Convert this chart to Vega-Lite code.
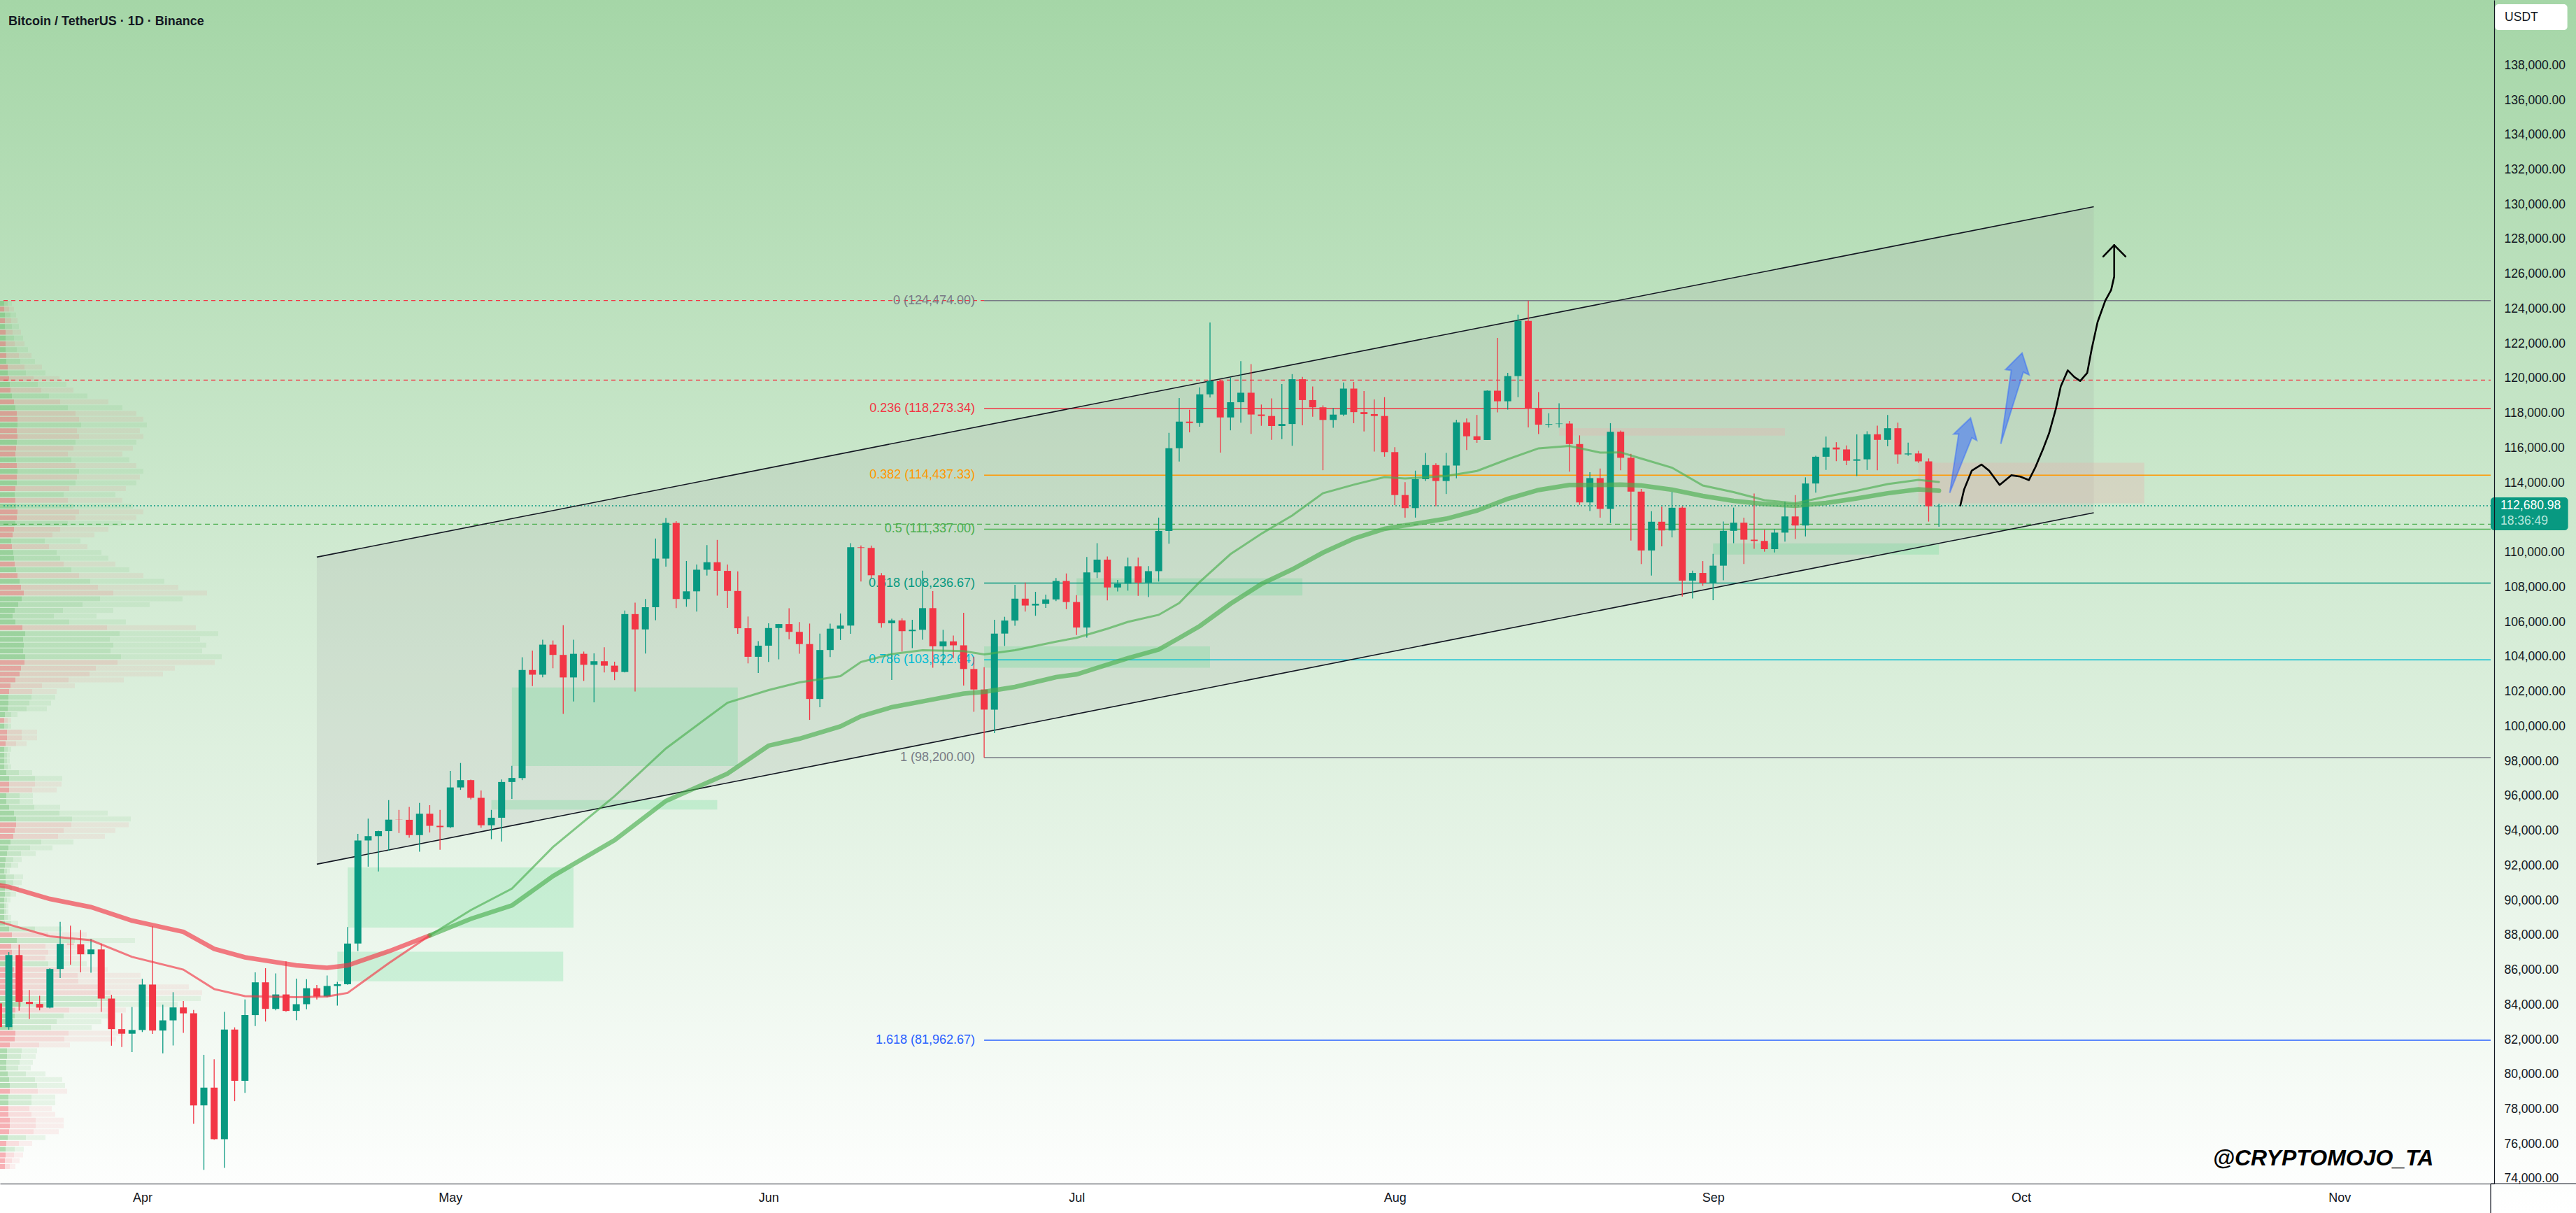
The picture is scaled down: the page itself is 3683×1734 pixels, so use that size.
{
"$schema":"https://vega.github.io/schema/vega-lite/v6.json",
"width":3566,"height":1692,"autosize":{"type":"none"},"padding":{"left":0,"top":0,"right":117,"bottom":42},"background":"#ffffff",
"config":{"view":{"stroke":null,"fill":{"gradient":"linear","x1":0,"y1":0,"x2":0,"y2":1,"stops":[{"offset":0,"color":"#a5d6a7"},{"offset":0.5,"color":"#d3ebd4"},{"offset":1,"color":"#fdfefd"}]}},"font":"Liberation Sans"},
"title":{"text":"Bitcoin / TetherUS · 1D · Binance","anchor":"start","frame":"group","orient":"top","offset":-54,"baseline":"alphabetic","dx":12,"fontSize":18,"fontWeight":"bold","font":"Liberation Sans","color":"#131722"},
"datasets":{
"candles":[
{"date":"2025-03-18","o":84075,"h":84075,"l":81134,"c":82718},
{"date":"2025-03-19","o":82718,"h":87022,"l":82566,"c":86855},
{"date":"2025-03-20","o":86855,"h":87453,"l":83655,"c":84167},
{"date":"2025-03-21","o":84167,"h":84850,"l":83175,"c":84043},
{"date":"2025-03-22","o":84043,"h":84513,"l":83675,"c":83833},
{"date":"2025-03-23","o":83833,"h":86106,"l":83791,"c":86054},
{"date":"2025-03-24","o":86054,"h":88765,"l":85541,"c":87499},
{"date":"2025-03-25","o":87499,"h":88543,"l":86300,"c":87471},
{"date":"2025-03-26","o":87471,"h":88292,"l":85861,"c":86900},
{"date":"2025-03-27","o":86900,"h":87786,"l":85837,"c":87177},
{"date":"2025-03-28","o":87177,"h":87515,"l":83585,"c":84353},
{"date":"2025-03-29","o":84353,"h":84567,"l":81644,"c":82597},
{"date":"2025-03-30","o":82597,"h":83505,"l":81565,"c":82334},
{"date":"2025-03-31","o":82334,"h":83871,"l":81278,"c":82548},
{"date":"2025-04-01","o":82548,"h":85487,"l":82430,"c":85159},
{"date":"2025-04-02","o":85159,"h":88500,"l":82320,"c":82516},
{"date":"2025-04-03","o":82516,"h":83998,"l":81211,"c":83102},
{"date":"2025-04-04","o":83102,"h":84720,"l":81659,"c":83844},
{"date":"2025-04-05","o":83844,"h":84207,"l":82378,"c":83504},
{"date":"2025-04-06","o":83504,"h":83704,"l":77153,"c":78214},
{"date":"2025-04-07","o":78214,"h":81119,"l":74508,"c":79235},
{"date":"2025-04-08","o":79235,"h":80867,"l":76239,"c":76272},
{"date":"2025-04-09","o":76272,"h":83588,"l":74620,"c":82573},
{"date":"2025-04-10","o":82573,"h":82700,"l":78456,"c":79627},
{"date":"2025-04-11","o":79627,"h":84300,"l":78936,"c":83404},
{"date":"2025-04-12","o":83404,"h":85856,"l":82770,"c":85288},
{"date":"2025-04-13","o":85288,"h":86100,"l":83034,"c":83760},
{"date":"2025-04-14","o":83760,"h":85799,"l":83678,"c":84591},
{"date":"2025-04-15","o":84591,"h":86496,"l":83600,"c":83643},
{"date":"2025-04-16","o":83643,"h":85500,"l":83111,"c":84030},
{"date":"2025-04-17","o":84030,"h":85470,"l":83736,"c":84947},
{"date":"2025-04-18","o":84947,"h":85132,"l":84303,"c":84474},
{"date":"2025-04-19","o":84474,"h":85677,"l":84418,"c":85077},
{"date":"2025-04-20","o":85077,"h":85320,"l":83949,"c":85179},
{"date":"2025-04-21","o":85179,"h":88460,"l":85144,"c":87516},
{"date":"2025-04-22","o":87516,"h":93817,"l":87085,"c":93442},
{"date":"2025-04-23","o":93442,"h":94696,"l":91935,"c":93691},
{"date":"2025-04-24","o":93691,"h":94000,"l":91660,"c":93980},
{"date":"2025-04-25","o":93980,"h":95758,"l":92856,"c":94638},
{"date":"2025-04-26","o":94638,"h":95199,"l":93870,"c":94629},
{"date":"2025-04-27","o":94629,"h":95369,"l":93602,"c":93750},
{"date":"2025-04-28","o":93750,"h":95600,"l":92800,"c":94979},
{"date":"2025-04-29","o":94979,"h":95470,"l":93900,"c":94284},
{"date":"2025-04-30","o":94284,"h":95200,"l":92910,"c":94207},
{"date":"2025-05-01","o":94207,"h":97437,"l":94153,"c":96490},
{"date":"2025-05-02","o":96490,"h":97895,"l":96350,"c":96910},
{"date":"2025-05-03","o":96910,"h":96943,"l":95800,"c":95892},
{"date":"2025-05-04","o":95892,"h":96318,"l":94172,"c":94315},
{"date":"2025-05-05","o":94315,"h":95199,"l":93514,"c":94748},
{"date":"2025-05-06","o":94748,"h":96950,"l":93377,"c":96802},
{"date":"2025-05-07","o":96802,"h":97732,"l":95837,"c":97033},
{"date":"2025-05-08","o":97033,"h":103971,"l":96910,"c":103241},
{"date":"2025-05-09","o":103241,"h":104361,"l":102315,"c":102971},
{"date":"2025-05-10","o":102971,"h":104984,"l":102818,"c":104696},
{"date":"2025-05-11","o":104696,"h":104937,"l":103340,"c":104107},
{"date":"2025-05-12","o":104107,"h":105819,"l":100718,"c":102812},
{"date":"2025-05-13","o":102812,"h":104976,"l":101429,"c":104170},
{"date":"2025-05-14","o":104170,"h":104300,"l":102614,"c":103539},
{"date":"2025-05-15","o":103539,"h":104192,"l":101383,"c":103744},
{"date":"2025-05-16","o":103744,"h":104550,"l":103100,"c":103489},
{"date":"2025-05-17","o":103489,"h":103718,"l":102659,"c":103126},
{"date":"2025-05-18","o":103126,"h":106660,"l":103105,"c":106454},
{"date":"2025-05-19","o":106454,"h":107108,"l":102000,"c":105573},
{"date":"2025-05-20","o":105573,"h":107320,"l":104184,"c":106850},
{"date":"2025-05-21","o":106850,"h":110797,"l":106100,"c":109643},
{"date":"2025-05-22","o":109643,"h":111980,"l":109177,"c":111696},
{"date":"2025-05-23","o":111696,"h":111800,"l":106800,"c":107318},
{"date":"2025-05-24","o":107318,"h":109506,"l":106875,"c":107762},
{"date":"2025-05-25","o":107762,"h":109299,"l":106600,"c":109004},
{"date":"2025-05-26","o":109004,"h":110422,"l":108670,"c":109434},
{"date":"2025-05-27","o":109434,"h":110718,"l":107516,"c":108938},
{"date":"2025-05-28","o":108938,"h":109300,"l":106810,"c":107782},
{"date":"2025-05-29","o":107782,"h":108910,"l":105322,"c":105641},
{"date":"2025-05-30","o":105641,"h":106313,"l":103621,"c":103998},
{"date":"2025-05-31","o":103998,"h":104900,"l":103068,"c":104638},
{"date":"2025-06-01","o":104638,"h":105920,"l":103700,"c":105652},
{"date":"2025-06-02","o":105652,"h":105888,"l":103854,"c":105881},
{"date":"2025-06-03","o":105881,"h":106794,"l":105000,"c":105432},
{"date":"2025-06-04","o":105432,"h":105999,"l":104172,"c":104731},
{"date":"2025-06-05","o":104731,"h":105909,"l":100372,"c":101575},
{"date":"2025-06-06","o":101575,"h":105333,"l":101095,"c":104390},
{"date":"2025-06-07","o":104390,"h":105900,"l":103981,"c":105615},
{"date":"2025-06-08","o":105615,"h":106488,"l":104964,"c":105793},
{"date":"2025-06-09","o":105793,"h":110530,"l":105318,"c":110295},
{"date":"2025-06-10","o":110295,"h":110400,"l":108331,"c":110257},
{"date":"2025-06-11","o":110257,"h":110392,"l":108500,"c":108686},
{"date":"2025-06-12","o":108686,"h":108813,"l":105671,"c":105929},
{"date":"2025-06-13","o":105929,"h":106182,"l":102664,"c":106090},
{"date":"2025-06-14","o":106090,"h":106210,"l":104300,"c":105472},
{"date":"2025-06-15","o":105472,"h":106128,"l":104494,"c":105552},
{"date":"2025-06-16","o":105552,"h":108952,"l":104980,"c":106796},
{"date":"2025-06-17","o":106796,"h":107771,"l":103371,"c":104601},
{"date":"2025-06-18","o":104601,"h":105550,"l":103500,"c":104883},
{"date":"2025-06-19","o":104883,"h":105226,"l":103928,"c":104658},
{"date":"2025-06-20","o":104658,"h":106524,"l":102345,"c":103297},
{"date":"2025-06-21","o":103297,"h":104000,"l":100838,"c":102120},
{"date":"2025-06-22","o":102120,"h":103400,"l":98200,"c":100963},
{"date":"2025-06-23","o":100963,"h":106128,"l":99613,"c":105334},
{"date":"2025-06-24","o":105334,"h":106300,"l":104622,"c":106083},
{"date":"2025-06-25","o":106083,"h":108135,"l":105786,"c":107340},
{"date":"2025-06-26","o":107340,"h":108272,"l":106595,"c":106947},
{"date":"2025-06-27","o":106947,"h":107735,"l":106356,"c":107047},
{"date":"2025-06-28","o":107047,"h":107577,"l":106811,"c":107296},
{"date":"2025-06-29","o":107296,"h":108528,"l":107201,"c":108357},
{"date":"2025-06-30","o":108357,"h":108789,"l":106733,"c":107146},
{"date":"2025-07-01","o":107146,"h":107540,"l":105250,"c":105682},
{"date":"2025-07-02","o":105682,"h":109730,"l":105100,"c":108850},
{"date":"2025-07-03","o":108850,"h":110529,"l":108527,"c":109584},
{"date":"2025-07-04","o":109584,"h":109765,"l":107245,"c":107984},
{"date":"2025-07-05","o":107984,"h":108420,"l":107756,"c":108198},
{"date":"2025-07-06","o":108198,"h":109700,"l":107800,"c":109203},
{"date":"2025-07-07","o":109203,"h":109700,"l":107500,"c":108262},
{"date":"2025-07-08","o":108262,"h":109216,"l":107429,"c":108922},
{"date":"2025-07-09","o":108922,"h":111999,"l":108324,"c":111234},
{"date":"2025-07-10","o":111234,"h":116868,"l":110500,"c":115987},
{"date":"2025-07-11","o":115987,"h":118869,"l":115222,"c":117516},
{"date":"2025-07-12","o":117516,"h":118200,"l":116900,"c":117435},
{"date":"2025-07-13","o":117435,"h":119488,"l":117224,"c":119086},
{"date":"2025-07-14","o":119086,"h":123218,"l":118905,"c":119841},
{"date":"2025-07-15","o":119841,"h":119940,"l":115736,"c":117758},
{"date":"2025-07-16","o":117758,"h":120063,"l":117017,"c":118630},
{"date":"2025-07-17","o":118630,"h":120998,"l":117453,"c":119177},
{"date":"2025-07-18","o":119177,"h":120820,"l":116812,"c":117925},
{"date":"2025-07-19","o":117925,"h":118499,"l":117277,"c":117840},
{"date":"2025-07-20","o":117840,"h":118856,"l":116467,"c":117265},
{"date":"2025-07-21","o":117265,"h":119676,"l":116515,"c":117380},
{"date":"2025-07-22","o":117380,"h":120247,"l":116128,"c":119954},
{"date":"2025-07-23","o":119954,"h":120090,"l":117301,"c":118755},
{"date":"2025-07-24","o":118755,"h":119535,"l":117800,"c":118340},
{"date":"2025-07-25","o":118340,"h":118451,"l":114723,"c":117614},
{"date":"2025-07-26","o":117614,"h":118300,"l":117161,"c":117919},
{"date":"2025-07-27","o":117919,"h":119766,"l":117841,"c":119415},
{"date":"2025-07-28","o":119415,"h":119800,"l":117427,"c":118062},
{"date":"2025-07-29","o":118062,"h":119273,"l":116950,"c":117950},
{"date":"2025-07-30","o":117950,"h":118792,"l":115800,"c":117840},
{"date":"2025-07-31","o":117840,"h":118922,"l":115500,"c":115764},
{"date":"2025-08-01","o":115764,"h":116052,"l":112722,"c":113297},
{"date":"2025-08-02","o":113297,"h":114036,"l":112000,"c":112546},
{"date":"2025-08-03","o":112546,"h":114700,"l":112000,"c":114208},
{"date":"2025-08-04","o":114208,"h":115720,"l":114107,"c":115020},
{"date":"2025-08-05","o":115020,"h":115127,"l":112650,"c":114104},
{"date":"2025-08-06","o":114104,"h":115720,"l":113356,"c":114992},
{"date":"2025-08-07","o":114992,"h":117630,"l":114259,"c":117472},
{"date":"2025-08-08","o":117472,"h":117700,"l":115891,"c":116674},
{"date":"2025-08-09","o":116674,"h":117900,"l":116300,"c":116462},
{"date":"2025-08-10","o":116462,"h":119312,"l":116460,"c":119294},
{"date":"2025-08-11","o":119294,"h":122335,"l":118050,"c":118686},
{"date":"2025-08-12","o":118686,"h":120324,"l":118207,"c":120134},
{"date":"2025-08-13","o":120134,"h":123667,"l":118920,"c":123306},
{"date":"2025-08-14","o":123306,"h":124474,"l":117180,"c":118295},
{"date":"2025-08-15","o":118295,"h":119216,"l":116803,"c":117342},
{"date":"2025-08-16","o":117342,"h":117999,"l":117172,"c":117380},
{"date":"2025-08-17","o":117380,"h":118575,"l":117172,"c":117405},
{"date":"2025-08-18","o":117405,"h":117543,"l":114640,"c":116227},
{"date":"2025-08-19","o":116227,"h":116725,"l":112732,"c":112873},
{"date":"2025-08-20","o":112873,"h":114615,"l":112380,"c":114271},
{"date":"2025-08-21","o":114271,"h":114821,"l":112000,"c":112500},
{"date":"2025-08-22","o":112500,"h":117429,"l":111684,"c":116935},
{"date":"2025-08-23","o":116935,"h":117000,"l":114723,"c":115438},
{"date":"2025-08-24","o":115438,"h":115666,"l":110680,"c":113493},
{"date":"2025-08-25","o":113493,"h":113644,"l":109329,"c":110111},
{"date":"2025-08-26","o":110111,"h":112371,"l":108666,"c":111763},
{"date":"2025-08-27","o":111763,"h":112625,"l":110345,"c":111262},
{"date":"2025-08-28","o":111262,"h":113485,"l":110862,"c":112566},
{"date":"2025-08-29","o":112566,"h":112650,"l":107463,"c":108377},
{"date":"2025-08-30","o":108377,"h":108953,"l":107350,"c":108817},
{"date":"2025-08-31","o":108817,"h":109500,"l":108076,"c":108246},
{"date":"2025-09-01","o":108246,"h":109915,"l":107255,"c":109237},
{"date":"2025-09-02","o":109237,"h":111771,"l":108393,"c":111240},
{"date":"2025-09-03","o":111240,"h":112575,"l":110528,"c":111706},
{"date":"2025-09-04","o":111706,"h":112000,"l":109330,"c":110730},
{"date":"2025-09-05","o":110730,"h":113384,"l":110206,"c":110659},
{"date":"2025-09-06","o":110659,"h":111303,"l":110042,"c":110187},
{"date":"2025-09-07","o":110187,"h":111350,"l":110000,"c":111137},
{"date":"2025-09-08","o":111137,"h":112924,"l":110621,"c":112066},
{"date":"2025-09-09","o":112066,"h":113293,"l":110766,"c":111546},
{"date":"2025-09-10","o":111546,"h":114313,"l":110917,"c":113960},
{"date":"2025-09-11","o":113960,"h":115550,"l":113432,"c":115498},
{"date":"2025-09-12","o":115498,"h":116665,"l":114740,"c":116029},
{"date":"2025-09-13","o":116029,"h":116333,"l":115244,"c":115919},
{"date":"2025-09-14","o":115919,"h":116150,"l":115010,"c":115268},
{"date":"2025-09-15","o":115268,"h":116781,"l":114384,"c":115349},
{"date":"2025-09-16","o":115349,"h":116964,"l":114737,"c":116788},
{"date":"2025-09-17","o":116788,"h":117286,"l":114720,"c":116468},
{"date":"2025-09-18","o":116468,"h":117900,"l":116100,"c":117137},
{"date":"2025-09-19","o":117137,"h":117459,"l":115100,"c":115632},
{"date":"2025-09-20","o":115632,"h":116306,"l":115554,"c":115685},
{"date":"2025-09-21","o":115685,"h":115836,"l":115147,"c":115232},
{"date":"2025-09-22","o":115232,"h":115400,"l":111770,"c":112650},
{"date":"2025-09-23","o":112650,"h":112800,"l":111470,"c":112681}
],
"ema":[
{"date":"2025-03-18","fast":88790,"slow":90880,"s":"r"},
{"date":"2025-03-19","fast":88610,"slow":90770,"s":"r"},
{"date":"2025-03-23","fast":87930,"slow":90080,"s":"r"},
{"date":"2025-03-27","fast":87710,"slow":89610,"s":"r"},
{"date":"2025-03-31","fast":86750,"slow":88835,"s":"r"},
{"date":"2025-04-05","fast":86020,"slow":88190,"s":"r"},
{"date":"2025-04-08","fast":84900,"slow":87210,"s":"r"},
{"date":"2025-04-11","fast":84490,"slow":86725,"s":"r"},
{"date":"2025-04-16","fast":84430,"slow":86260,"s":"r"},
{"date":"2025-04-19","fast":84470,"slow":86120,"s":"r"},
{"date":"2025-04-21","fast":84680,"slow":86260,"s":"r"},
{"date":"2025-04-25","fast":86380,"slow":87070,"s":"r"},
{"date":"2025-04-29","fast":87980,"slow":87980,"s":"r"},
{"date":"2025-04-29","fast":87980,"slow":87980,"s":"g"},
{"date":"2025-05-03","fast":89440,"slow":88935,"s":"g"},
{"date":"2025-05-07","fast":90670,"slow":89705,"s":"g"},
{"date":"2025-05-11","fast":93060,"slow":91390,"s":"g"},
{"date":"2025-05-17","fast":95990,"slow":93460,"s":"g"},
{"date":"2025-05-22","fast":98730,"slow":95710,"s":"g"},
{"date":"2025-05-28","fast":101360,"slow":97280,"s":"g"},
{"date":"2025-06-01","fast":102085,"slow":98890,"s":"g"},
{"date":"2025-06-04","fast":102530,"slow":99290,"s":"g"},
{"date":"2025-06-08","fast":102890,"slow":99995,"s":"g"},
{"date":"2025-06-10","fast":103700,"slow":100580,"s":"g"},
{"date":"2025-06-13","fast":104160,"slow":101100,"s":"g"},
{"date":"2025-06-16","fast":104380,"slow":101435,"s":"g"},
{"date":"2025-06-20","fast":104325,"slow":101885,"s":"g"},
{"date":"2025-06-22","fast":104135,"slow":101985,"s":"g"},
{"date":"2025-06-25","fast":104380,"slow":102265,"s":"g"},
{"date":"2025-06-29","fast":104870,"slow":102830,"s":"g"},
{"date":"2025-07-01","fast":105090,"slow":102990,"s":"g"},
{"date":"2025-07-04","fast":105615,"slow":103550,"s":"g"},
{"date":"2025-07-06","fast":106005,"slow":103915,"s":"g"},
{"date":"2025-07-09","fast":106410,"slow":104415,"s":"g"},
{"date":"2025-07-11","fast":107090,"slow":105080,"s":"g"},
{"date":"2025-07-13","fast":108300,"slow":105765,"s":"g"},
{"date":"2025-07-16","fast":109905,"slow":107050,"s":"g"},
{"date":"2025-07-19","fast":111070,"slow":108180,"s":"g"},
{"date":"2025-07-22","fast":112117,"slow":109020,"s":"g"},
{"date":"2025-07-25","fast":113400,"slow":109985,"s":"g"},
{"date":"2025-07-28","fast":113890,"slow":110790,"s":"g"},
{"date":"2025-07-31","fast":114330,"slow":111355,"s":"g"},
{"date":"2025-08-02","fast":114250,"slow":111555,"s":"g"},
{"date":"2025-08-06","fast":114390,"slow":111935,"s":"g"},
{"date":"2025-08-09","fast":114680,"slow":112400,"s":"g"},
{"date":"2025-08-12","fast":115355,"slow":113080,"s":"g"},
{"date":"2025-08-15","fast":115980,"slow":113585,"s":"g"},
{"date":"2025-08-18","fast":116120,"slow":113875,"s":"g"},
{"date":"2025-08-21","fast":115735,"slow":113875,"s":"g"},
{"date":"2025-08-23","fast":115750,"slow":113895,"s":"g"},
{"date":"2025-08-25","fast":115395,"slow":113845,"s":"g"},
{"date":"2025-08-28","fast":114870,"slow":113605,"s":"g"},
{"date":"2025-08-31","fast":113845,"slow":113245,"s":"g"},
{"date":"2025-09-03","fast":113465,"slow":112960,"s":"g"},
{"date":"2025-09-06","fast":113000,"slow":112780,"s":"g"},
{"date":"2025-09-09","fast":112820,"slow":112680,"s":"g"},
{"date":"2025-09-12","fast":113200,"slow":112840,"s":"g"},
{"date":"2025-09-15","fast":113545,"slow":113100,"s":"g"},
{"date":"2025-09-18","fast":113930,"slow":113400,"s":"g"},
{"date":"2025-09-21","fast":114170,"slow":113625,"s":"g"},
{"date":"2025-09-23","fast":114050,"slow":113545,"s":"g"}
],
"vp":[
{"p":74700,"w":17,"t":"r"},{"p":75033,"w":23,"t":"r"},{"p":75366,"w":28,"t":"r"},{"p":75699,"w":29,"t":"g"},{"p":76032,"w":41,"t":"r"},
{"p":76365,"w":60,"t":"g"},{"p":76698,"w":79,"t":"r"},{"p":77031,"w":86,"t":"r"},{"p":77364,"w":86,"t":"r"},{"p":77697,"w":74,"t":"r"},
{"p":78030,"w":69,"t":"r"},{"p":78363,"w":74,"t":"g"},{"p":78696,"w":74,"t":"g"},{"p":79029,"w":91,"t":"r"},{"p":79362,"w":88,"t":"g"},
{"p":79695,"w":84,"t":"g"},{"p":80028,"w":60,"t":"g"},{"p":80361,"w":39,"t":"g"},{"p":80694,"w":42,"t":"g"},{"p":81027,"w":46,"t":"g"},
{"p":81360,"w":48,"t":"g"},{"p":81693,"w":95,"t":"r"},{"p":82026,"w":161,"t":"r"},{"p":82359,"w":172,"t":"r"},{"p":82692,"w":126,"t":"g"},
{"p":83025,"w":140,"t":"g"},{"p":83358,"w":160,"t":"g"},{"p":83691,"w":175,"t":"r"},{"p":84024,"w":249,"t":"g"},{"p":84357,"w":282,"t":"g"},
{"p":84690,"w":284,"t":"r"},{"p":85023,"w":265,"t":"r"},{"p":85356,"w":198,"t":"r"},{"p":85689,"w":196,"t":"r"},{"p":86022,"w":149,"t":"r"},
{"p":86355,"w":119,"t":"g"},{"p":86688,"w":112,"t":"r"},{"p":87021,"w":118,"t":"r"},{"p":87354,"w":111,"t":"r"},{"p":87687,"w":188,"t":"g"},
{"p":88020,"w":119,"t":"r"},{"p":88353,"w":84,"t":"g"},{"p":88686,"w":21,"t":"g"},{"p":89019,"w":11,"t":"g"},{"p":89352,"w":7,"t":"g"},
{"p":89685,"w":7,"t":"g"},{"p":90018,"w":10,"t":"g"},{"p":90351,"w":18,"t":"g"},{"p":90684,"w":22,"t":"g"},{"p":91017,"w":26,"t":"g"},
{"p":91350,"w":28,"t":"g"},{"p":91683,"w":9,"t":"g"},{"p":92016,"w":21,"t":"g"},{"p":92349,"w":26,"t":"g"},{"p":92682,"w":46,"t":"g"},
{"p":93015,"w":70,"t":"g"},{"p":93348,"w":100,"t":"g"},{"p":93681,"w":145,"t":"r"},{"p":94014,"w":160,"t":"r"},{"p":94347,"w":179,"t":"r"},
{"p":94680,"w":182,"t":"g"},{"p":95013,"w":149,"t":"g"},{"p":95346,"w":81,"t":"g"},{"p":95679,"w":42,"t":"g"},{"p":96012,"w":42,"t":"g"},
{"p":96345,"w":76,"t":"r"},{"p":96678,"w":83,"t":"r"},{"p":97011,"w":84,"t":"g"},{"p":97344,"w":41,"t":"g"},{"p":97677,"w":11,"t":"g"},
{"p":98010,"w":9,"t":"g"},{"p":98343,"w":9,"t":"g"},{"p":98676,"w":11,"t":"g"},{"p":99009,"w":33,"t":"r"},{"p":99342,"w":48,"t":"r"},
{"p":99675,"w":48,"t":"r"},{"p":100008,"w":11,"t":"g"},{"p":100341,"w":11,"t":"r"},{"p":100674,"w":20,"t":"g"},{"p":101007,"w":62,"t":"g"},
{"p":101340,"w":68,"t":"g"},{"p":101673,"w":74,"t":"g"},{"p":102006,"w":76,"t":"r"},{"p":102339,"w":102,"t":"r"},{"p":102672,"w":172,"t":"r"},
{"p":103005,"w":228,"t":"r"},{"p":103338,"w":245,"t":"r"},{"p":103671,"w":302,"t":"r"},{"p":104004,"w":312,"t":"g"},{"p":104337,"w":284,"t":"g"},
{"p":104670,"w":290,"t":"g"},{"p":105003,"w":281,"t":"g"},{"p":105336,"w":307,"t":"g"},{"p":105669,"w":275,"t":"r"},{"p":106002,"w":175,"t":"g"},
{"p":106335,"w":133,"t":"g"},{"p":106668,"w":157,"t":"g"},{"p":107001,"w":209,"t":"g"},{"p":107334,"w":256,"t":"g"},{"p":107667,"w":291,"t":"r"},
{"p":108000,"w":250,"t":"r"},{"p":108333,"w":230,"t":"g"},{"p":108666,"w":200,"t":"r"},{"p":108999,"w":180,"t":"g"},{"p":109332,"w":160,"t":"r"},
{"p":109665,"w":150,"t":"g"},{"p":109998,"w":140,"t":"g"},{"p":110331,"w":120,"t":"r"},{"p":110664,"w":110,"t":"g"},{"p":110997,"w":130,"t":"r"},
{"p":111330,"w":150,"t":"r"},{"p":111663,"w":170,"t":"g"},{"p":111996,"w":190,"t":"r"},{"p":112329,"w":200,"t":"r"},{"p":112662,"w":185,"t":"g"},
{"p":112995,"w":170,"t":"r"},{"p":113328,"w":160,"t":"g"},{"p":113661,"w":175,"t":"r"},{"p":113994,"w":190,"t":"g"},{"p":114327,"w":195,"t":"r"},
{"p":114660,"w":200,"t":"g"},{"p":114993,"w":190,"t":"r"},{"p":115326,"w":180,"t":"g"},{"p":115659,"w":170,"t":"r"},{"p":115992,"w":185,"t":"r"},
{"p":116325,"w":190,"t":"g"},{"p":116658,"w":200,"t":"r"},{"p":116991,"w":195,"t":"r"},{"p":117324,"w":205,"t":"g"},{"p":117657,"w":200,"t":"r"},
{"p":117990,"w":190,"t":"r"},{"p":118323,"w":170,"t":"g"},{"p":118656,"w":150,"t":"r"},{"p":118989,"w":120,"t":"g"},{"p":119322,"w":100,"t":"r"},
{"p":119655,"w":90,"t":"g"},{"p":119988,"w":80,"t":"r"},{"p":120321,"w":60,"t":"g"},{"p":120654,"w":55,"t":"r"},{"p":120987,"w":45,"t":"g"},
{"p":121320,"w":40,"t":"r"},{"p":121653,"w":35,"t":"g"},{"p":121986,"w":30,"t":"r"},{"p":122319,"w":28,"t":"g"},{"p":122652,"w":25,"t":"r"},
{"p":122985,"w":22,"t":"g"},{"p":123318,"w":20,"t":"r"},{"p":123651,"w":18,"t":"g"},{"p":123984,"w":15,"t":"r"},{"p":124317,"w":12,"t":"g"}
],
"zones":[
{"a":"2025-05-07","b":"2025-05-29","lo":97723,"hi":102234,"k":"g"},
{"a":"2025-04-21","b":"2025-05-13","lo":88434,"hi":91892,"k":"g"},
{"a":"2025-04-20","b":"2025-05-12","lo":85346,"hi":87043,"k":"g"},
{"a":"2025-05-05","b":"2025-05-27","lo":95218,"hi":95760,"k":"g"},
{"a":"2025-07-01","b":"2025-07-23","lo":107522,"hi":108507,"k":"g"},
{"a":"2025-06-22","b":"2025-07-14","lo":103372,"hi":104598,"k":"g"},
{"a":"2025-08-17","b":"2025-09-08","lo":116713,"hi":117144,"k":"t"},
{"a":"2025-09-01","b":"2025-09-23","lo":109878,"hi":110521,"k":"g"},
{"a":"2025-09-21","b":"2025-10-13","lo":112817,"hi":115157,"k":"t"}
],
"channel":[
{"date":"2025-04-18","upper":109730,"lower":92077},
{"date":"2025-10-08T01:55:00Z","upper":129870,"lower":112278}
],
"fib":[
{"lvl":"0","label":"0 (124,474.00)","p":124474},
{"lvl":"0.236","label":"0.236 (118,273.34)","p":118273.34},
{"lvl":"0.382","label":"0.382 (114,437.33)","p":114437.33},
{"lvl":"0.5","label":"0.5 (111,337.00)","p":111337},
{"lvl":"0.618","label":"0.618 (108,236.67)","p":108236.67},
{"lvl":"0.786","label":"0.786 (103,822.64)","p":103822.64},
{"lvl":"1","label":"1 (98,200.00)","p":98200},
{"lvl":"1.618","label":"1.618 (81,962.67)","p":81962.67}
],
"proj":[
{"date":"2025-09-25T02:00:00Z","p":112696,"i":1,"g":"c"},
{"date":"2025-09-25T10:48:00Z","p":113617,"i":2,"g":"c"},
{"date":"2025-09-26T04:34:00Z","p":114695,"i":3,"g":"c"},
{"date":"2025-09-27T03:22:00Z","p":115049,"i":4,"g":"c"},
{"date":"2025-09-27T21:22:00Z","p":114695,"i":5,"g":"c"},
{"date":"2025-09-28T21:50:00Z","p":113879,"i":6,"g":"c"},
{"date":"2025-09-30T01:00:00Z","p":114433,"i":7,"g":"c"},
{"date":"2025-09-30T21:50:00Z","p":114357,"i":8,"g":"c"},
{"date":"2025-10-01T18:14:00Z","p":114156,"i":9,"g":"c"},
{"date":"2025-10-02T10:05:00Z","p":114928,"i":10,"g":"c"},
{"date":"2025-10-03T04:19:00Z","p":116002,"i":11,"g":"c"},
{"date":"2025-10-03T17:31:00Z","p":116850,"i":12,"g":"c"},
{"date":"2025-10-04T09:07:00Z","p":118233,"i":13,"g":"c"},
{"date":"2025-10-04T20:53:00Z","p":119544,"i":14,"g":"c"},
{"date":"2025-10-05T13:12:00Z","p":120465,"i":15,"g":"c"},
{"date":"2025-10-06T04:19:00Z","p":120083,"i":16,"g":"c"},
{"date":"2025-10-06T18:14:00Z","p":119850,"i":17,"g":"c"},
{"date":"2025-10-07T10:34:00Z","p":120312,"i":18,"g":"c"},
{"date":"2025-10-07T21:07:00Z","p":121695,"i":19,"g":"c"},
{"date":"2025-10-08T10:48:00Z","p":123235,"i":20,"g":"c"},
{"date":"2025-10-09T04:48:00Z","p":124466,"i":21,"g":"c"},
{"date":"2025-10-09T18:29:00Z","p":125081,"i":22,"g":"c"},
{"date":"2025-10-10T01:41:00Z","p":125853,"i":23,"g":"c"},
{"date":"2025-10-10T01:41:00Z","p":127666,"i":24,"g":"c"},
{"date":"2025-10-09T00:14:00Z","p":127007,"i":1,"g":"h"},
{"date":"2025-10-10T01:41:00Z","p":127666,"i":2,"g":"h"},
{"date":"2025-10-11T04:05:00Z","p":127007,"i":3,"g":"h"}
],
"arrows":[
{"date":"2025-09-24T01:12:00Z","p":113420,"i":1,"g":"a"},
{"date":"2025-09-24T22:05:00Z","p":116802,"i":2,"g":"a"},
{"date":"2025-09-24T10:19:00Z","p":116802,"i":3,"g":"a"},
{"date":"2025-09-26T01:55:00Z","p":117727,"i":4,"g":"a"},
{"date":"2025-09-26T16:34:00Z","p":116436,"i":5,"g":"a"},
{"date":"2025-09-26T04:48:00Z","p":116589,"i":6,"g":"a"},
{"date":"2025-09-24T01:12:00Z","p":113420,"i":7,"g":"a"},
{"date":"2025-09-29T00:29:00Z","p":116235,"i":1,"g":"b"},
{"date":"2025-09-30T01:00:00Z","p":120465,"i":2,"g":"b"},
{"date":"2025-09-29T11:31:00Z","p":120513,"i":3,"g":"b"},
{"date":"2025-10-01T02:24:00Z","p":121466,"i":4,"g":"b"},
{"date":"2025-10-01T18:43:00Z","p":120203,"i":5,"g":"b"},
{"date":"2025-10-01T05:17:00Z","p":120360,"i":6,"g":"b"},
{"date":"2025-09-29T00:29:00Z","p":116235,"i":7,"g":"b"}
],
"boxes":[
{"a":"2025-11-15T17:46:00Z","b":"2025-11-23T06:43:00Z","lo":111273,"hi":113163,"k":"price"},
{"a":"2025-11-16T03:50:00Z","b":"2025-11-23T05:02:00Z","lo":140022,"hi":141510,"k":"unit"}
],
"texts":[
{"date":"2025-11-16T16:34:00Z","p":112680,"txt":"112,680.98","k":"price"},
{"date":"2025-11-16T16:34:00Z","p":111796,"txt":"18:36:49","k":"time"},
{"date":"2025-11-17T02:38:00Z","p":140746,"txt":"USDT","k":"unit"}
],
"mark":[
{"date":"2025-10-30T10:19:00Z","p":75165,"txt":"@CRYPTOMOJO_TA"}
]
},
"layer":[
  {"data":{"name":"channel"},"mark":{"type":"area","color":"#9e9e9e","opacity":0.18},
   "encoding":{"x":{"field":"date","type":"temporal","scale":{"type":"utc","domain":[1742297558400,1763228736000]},
      "axis":{"values":[1743465600000,1746057600000,1748736000000,1751328000000,1754006400000,1756684800000,1759276800000,1761955200000],"labelExpr":"utcFormat(datum.value, '%b')","orient":"bottom","domainColor":"#131722","domainWidth":1.2,"ticks":false,"labelPadding":20,"labelBaseline":"middle","labelFontSize":18,"labelFont":"Liberation Sans","labelColor":"#131722","title":null,"grid":false,"zindex":1}},
     "y":{"field":"upper","type":"quantitative","scale":{"domain":[73717,141751.5],"nice":false,"zero":false},
      "axis":{"values":[74000,76000,78000,80000,82000,84000,86000,88000,90000,92000,94000,96000,98000,100000,102000,104000,106000,108000,110000,114000,116000,118000,120000,122000,124000,126000,128000,130000,132000,134000,136000,138000],"format":",.2f","orient":"right","domainColor":"#131722","domainWidth":1.2,"ticks":false,"labelPadding":14,"labelAlign":"left","labelBaseline":"middle","labelFontSize":17.5,"labelFont":"Liberation Sans","labelColor":"#131722","title":null,"grid":false,"zindex":1}},
     "y2":{"field":"lower"}}},
  {"data":{"values":[{}]},"mark":{"type":"rect","color":{"gradient":"linear","x1":0,"y1":0,"x2":0,"y2":1,"stops":[{"offset":0,"color":"#a5d6a7"},{"offset":0.488,"color":"#d3ebd4"},{"offset":0.976,"color":"#fdfefd"},{"offset":1,"color":"#ffffff"}]}},
   "encoding":{"x":{"datum":1763228736000,"type":"temporal"},"x2":{"datum":1764100000000},
     "y":{"datum":141751.5,"type":"quantitative"},"y2":{"datum":72029}}},
  {"data":{"name":"vp"},"transform":[{"filter":"datum.t == 'g'"}],
   "mark":{"type":"tick","orient":"horizontal","thickness":7,"color":{"gradient":"linear","x1":0,"y1":0,"x2":1,"y2":0,"stops":[{"offset":0,"color":"rgba(76,175,80,0.6)"},{"offset":0.55,"color":"rgba(76,175,80,0.6)"},{"offset":0.55,"color":"rgba(76,175,80,0.3)"},{"offset":0.77,"color":"rgba(76,175,80,0.3)"},{"offset":0.77,"color":"rgba(76,175,80,0.14)"},{"offset":1,"color":"rgba(76,175,80,0.14)"}]}},
   "encoding":{"x":{"datum":1742297558400,"type":"temporal"},
     "y":{"field":"p","type":"quantitative"},
     "size":{"field":"w","type":"quantitative","legend":null,"scale":{"type":"linear","domain":[0,1000],"range":[0,2000],"zero":true}}}},
  {"data":{"name":"vp"},"transform":[{"filter":"datum.t == 'r'"}],
   "mark":{"type":"tick","orient":"horizontal","thickness":7,"color":{"gradient":"linear","x1":0,"y1":0,"x2":1,"y2":0,"stops":[{"offset":0,"color":"rgba(242,54,69,0.55)"},{"offset":0.55,"color":"rgba(242,54,69,0.55)"},{"offset":0.55,"color":"rgba(242,54,69,0.22)"},{"offset":0.77,"color":"rgba(242,54,69,0.22)"},{"offset":0.77,"color":"rgba(242,54,69,0.1)"},{"offset":1,"color":"rgba(242,54,69,0.1)"}]}},
   "encoding":{"x":{"datum":1742297558400,"type":"temporal"},
     "y":{"field":"p","type":"quantitative"},
     "size":{"field":"w","type":"quantitative","legend":null,"scale":{"type":"linear","domain":[0,1000],"range":[0,2000],"zero":true}}}},
  {"data":{"name":"zones"},"mark":{"type":"rect"},
   "encoding":{"x":{"field":"a","type":"temporal"},"x2":{"field":"b"},
     "y":{"field":"lo","type":"quantitative"},"y2":{"field":"hi"},
     "color":{"condition":{"test":"datum.k == 't'","value":"#e6b5ae"},"value":"#4fd482"},
     "opacity":{"condition":{"test":"datum.k == 't'","value":0.35},"value":0.22}}},
  {"data":{"name":"fib"},"mark":{"type":"rule","strokeWidth":1.5},
   "encoding":{"x":{"datum":1750550400000,"type":"temporal"},"x2":{"datum":1763228736000},
     "y":{"field":"p","type":"quantitative"},
     "color":{"field":"lvl","type":"nominal","legend":null,"scale":{"domain":["0","0.236","0.382","0.5","0.618","0.786","1","1.618"],"range":["#787b86","#f23645","#ff9800","#4caf50","#089981","#00bcd4","#787b86","#2962ff"]}}}},
  {"data":{"values":[{}]},"mark":{"type":"rule","strokeWidth":1.3,"strokeDash":[6,5],"color":"#f23645"},
   "encoding":{"x":{"datum":1742297558400,"type":"temporal"},"x2":{"datum":1763228736000},"y":{"datum":119906,"type":"quantitative"}}},
  {"data":{"values":[{}]},"mark":{"type":"rule","strokeWidth":1.3,"strokeDash":[6,5],"color":"#f23645"},
   "encoding":{"x":{"datum":1742297558400,"type":"temporal"},"x2":{"datum":1750550400000},"y":{"datum":124474,"type":"quantitative"}}},
  {"data":{"values":[{}]},"mark":{"type":"rule","strokeWidth":1.3,"strokeDash":[7,5],"color":"#4caf50"},
   "encoding":{"x":{"datum":1742297558400,"type":"temporal"},"x2":{"datum":1763228736000},"y":{"datum":111623,"type":"quantitative"}}},
  {"data":{"values":[{}]},"mark":{"type":"rule","strokeWidth":1.3,"strokeDash":[2,3],"color":"#089981"},
   "encoding":{"x":{"datum":1742297558400,"type":"temporal"},"x2":{"datum":1763228736000},"y":{"datum":112681,"type":"quantitative"}}},
  {"data":{"values":[{}]},"mark":{"type":"rule","strokeWidth":1.2,"color":"#131722"},
   "encoding":{"x":{"datum":1763228736000,"type":"temporal"},"x2":{"datum":1764100000000},"y":{"datum":73717,"type":"quantitative"}}},
  {"data":{"values":[{}]},"mark":{"type":"rule","strokeWidth":1.2,"color":"#131722"},
   "encoding":{"x":{"datum":1763228736000,"type":"temporal"},"y":{"datum":73717,"type":"quantitative"},"y2":{"datum":72029}}},
  {"data":{"name":"fib"},"mark":{"type":"text","align":"right","baseline":"middle","dx":-13,"fontSize":18,"font":"Liberation Sans"},
   "encoding":{"x":{"datum":1750550400000,"type":"temporal"},
     "y":{"field":"p","type":"quantitative"},
     "text":{"field":"label"},
     "color":{"field":"lvl","type":"nominal","legend":null}}},
  {"data":{"name":"channel"},"mark":{"type":"line","color":"#131722","strokeWidth":1.6},
   "encoding":{"x":{"field":"date","type":"temporal"},"y":{"field":"upper","type":"quantitative"}}},
  {"data":{"name":"channel"},"mark":{"type":"line","color":"#131722","strokeWidth":1.6},
   "encoding":{"x":{"field":"date","type":"temporal"},"y":{"field":"lower","type":"quantitative"}}},
  {"data":{"name":"candles"},"mark":{"type":"rule","strokeWidth":1.3},
   "encoding":{"x":{"field":"date","type":"temporal"},
     "y":{"field":"l","type":"quantitative"},"y2":{"field":"h"},
     "color":{"condition":{"test":"datum.c >= datum.o","value":"#089981"},"value":"#f23645"}}},
  {"data":{"name":"candles"},"mark":{"type":"bar","width":10},
   "encoding":{"x":{"field":"date","type":"temporal"},
     "y":{"field":"o","type":"quantitative"},"y2":{"field":"c"},
     "color":{"condition":{"test":"datum.c >= datum.o","value":"#089981"},"value":"#f23645"}}},
  {"data":{"name":"ema"},"mark":{"type":"line","strokeWidth":6.5,"opacity":0.65,"strokeCap":"round"},
   "encoding":{"x":{"field":"date","type":"temporal"},"y":{"field":"slow","type":"quantitative"},
     "detail":{"field":"s"},
     "color":{"condition":{"test":"datum.s == 'g'","value":"#4caf50"},"value":"#f23645"}}},
  {"data":{"name":"ema"},"mark":{"type":"line","strokeWidth":3,"opacity":0.65,"strokeCap":"round"},
   "encoding":{"x":{"field":"date","type":"temporal"},"y":{"field":"fast","type":"quantitative"},
     "detail":{"field":"s"},
     "color":{"condition":{"test":"datum.s == 'g'","value":"#4caf50"},"value":"#f23645"}}},
  {"data":{"name":"arrows"},"mark":{"type":"line","fill":"#2962ff","fillOpacity":0.5,"stroke":"#2962ff","strokeOpacity":0.45,"strokeWidth":2},
   "encoding":{"x":{"field":"date","type":"temporal"},"y":{"field":"p","type":"quantitative"},
     "detail":{"field":"g"},"order":{"field":"i","type":"quantitative"}}},
  {"data":{"name":"proj"},"mark":{"type":"line","color":"#000000","strokeWidth":2.6,"strokeJoin":"round","strokeCap":"round"},
   "encoding":{"x":{"field":"date","type":"temporal"},"y":{"field":"p","type":"quantitative"},
     "detail":{"field":"g"},"order":{"field":"i","type":"quantitative"}}},
  {"data":{"name":"boxes"},"mark":{"type":"rect","cornerRadius":5},
   "encoding":{"x":{"field":"a","type":"temporal"},"x2":{"field":"b"},
     "y":{"field":"lo","type":"quantitative"},"y2":{"field":"hi"},
     "color":{"condition":{"test":"datum.k == 'price'","value":"#089981"},"value":"#ffffff"}}},
  {"data":{"name":"texts"},"mark":{"type":"text","align":"left","baseline":"middle","fontSize":17.5,"font":"Liberation Sans"},
   "encoding":{"x":{"field":"date","type":"temporal"},"y":{"field":"p","type":"quantitative"},
     "text":{"field":"txt"},
     "color":{"condition":[{"test":"datum.k == 'price'","value":"#ffffff"},{"test":"datum.k == 'time'","value":"#b9e6dc"}],"value":"#131722"}}},
  {"data":{"name":"mark"},"mark":{"type":"text","align":"center","baseline":"middle","fontSize":32,"fontWeight":"bold","fontStyle":"italic","font":"Liberation Sans","color":"#000000"},
   "encoding":{"x":{"field":"date","type":"temporal"},"y":{"field":"p","type":"quantitative"},
     "text":{"field":"txt"}}}
]
}
